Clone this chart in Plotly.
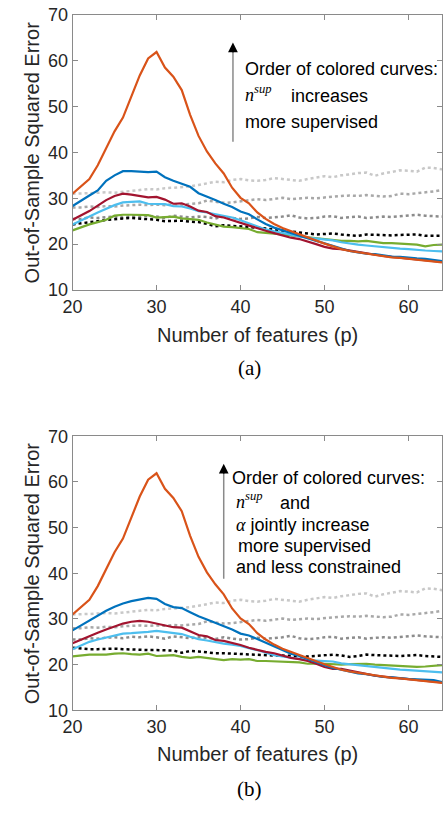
import plotly.graph_objects as go

p = list(range(20, 65))

# shared curves (same in both panels)
orange = [31.0, 32.6, 34.2, 37.2, 41.0, 44.6, 47.6, 52.0, 56.8, 60.5, 61.9, 58.5, 56.5, 53.6, 48.2,
          43.6, 40.2, 37.6, 35.4, 32.3, 30.1, 28.9, 26.9, 25.5, 24.4, 23.5, 22.8, 22.1, 21.4, 20.7,
          20.1, 19.5, 18.9, 18.5, 18.2, 17.9, 17.6, 17.3, 17.1, 17.0, 16.8, 16.6, 16.3, 16.2, 16.0]
gray_dark = [25.5, 25.5, 25.8, 25.7, 25.9, 26.0, 25.8, 26.1, 26.0, 26.2, 26.0, 25.7, 26.2, 26.0, 25.8,
             26.0, 25.9, 25.6, 26.0, 25.7, 25.5, 25.6, 25.9, 25.7, 25.8, 26.0, 26.3, 25.8, 25.6, 25.7,
             26.0, 26.1, 25.7, 25.9, 26.0, 25.7, 25.9, 26.0, 25.9, 26.1, 26.2, 26.4, 26.2, 26.1, 26.0]
gray_mid = [28.0, 28.0, 28.2, 28.1, 28.3, 28.2, 28.4, 28.5, 28.6, 28.5, 28.6, 28.5, 28.7, 28.6, 28.8,
            28.9, 29.5, 29.2, 29.0, 29.1, 29.3, 29.6, 29.8, 29.6, 29.9, 30.1, 29.8, 30.0, 30.1, 30.0,
            30.2, 30.3, 30.5, 30.6, 30.5, 30.7, 30.6, 30.4, 30.5, 31.0, 30.9, 31.1, 31.2, 31.5, 31.8]
gray_light = [31.0, 31.0, 31.1, 31.2, 31.3, 31.2, 31.4, 31.5, 31.8, 32.0, 31.9, 32.2, 32.3, 32.4, 32.6,
              32.9, 33.3, 33.6, 33.5, 34.0, 34.2, 33.9, 33.8, 34.0, 34.4, 34.2, 33.9, 33.8, 34.2, 34.5,
              34.8, 34.6, 35.0, 35.2, 35.5, 35.6, 34.9, 35.4, 35.8, 36.1, 36.0, 35.8, 36.7, 36.6, 36.3]

# panel (a)
a_blue = [28.3, 29.5, 30.6, 31.7, 33.8, 35.0, 35.9, 35.9, 35.8, 35.7, 35.8, 34.6, 33.8, 33.2, 32.5,
          31.1, 30.4, 29.6, 28.8, 28.1, 27.1, 26.5, 25.4, 24.4, 23.6, 23.0, 22.5, 21.9, 21.2, 20.7,
          20.2, 19.6, 19.1, 18.5, 18.2, 17.9, 17.8, 17.5, 17.3, 17.2, 17.0, 16.9, 16.8, 16.5, 16.3]
a_red = [25.3, 26.3, 27.2, 28.4, 29.6, 30.5, 31.0, 30.8, 30.5, 30.2, 30.3, 29.7, 28.8, 28.9, 28.2,
         27.3, 27.0, 26.1, 25.8, 25.2, 24.6, 24.0, 23.4, 22.9, 22.4, 21.9, 21.4, 21.1, 20.6, 20.0,
         19.4, 19.0, 18.9, 18.6, 18.3, 17.9, 17.6, 17.4, 17.2, 17.0, 16.9, 16.7, 16.4, 16.2, 16.1]
a_lblue = [24.3, 25.1, 26.0, 26.9, 27.7, 28.5, 29.1, 29.2, 29.3, 28.8, 28.8, 28.7, 28.3, 28.2, 27.8,
           27.2, 26.9, 26.5, 26.1, 25.8, 25.2, 24.5, 23.8, 23.2, 22.8, 22.4, 22.0, 21.7, 21.4, 21.2,
           21.0, 20.8, 20.4, 20.1, 19.9, 19.7, 19.5, 19.3, 19.1, 19.0, 18.9, 18.7, 18.6, 18.5, 18.4]
a_green = [23.0, 23.7, 24.3, 24.8, 25.3, 26.2, 26.4, 26.4, 26.4, 26.3, 25.8, 25.9, 26.0, 25.6, 25.4,
           25.3, 24.7, 24.3, 23.8, 23.7, 23.5, 23.3, 22.6, 22.5, 22.3, 22.1, 21.9, 21.7, 21.4, 21.2,
           21.0, 20.9, 20.7, 20.7, 20.6, 20.7, 20.5, 20.2, 20.2, 20.1, 20.0, 19.9, 19.5, 19.8, 19.9]
a_black = [24.3, 24.5, 24.7, 25.0, 25.3, 25.5, 25.6, 25.7, 25.6, 25.4, 25.3, 25.0, 25.1, 25.1, 24.9,
           24.8, 24.4, 23.9, 24.1, 24.0, 23.9, 23.7, 23.6, 23.4, 23.2, 23.0, 22.8, 22.6, 22.3, 22.1,
           22.2, 22.3, 22.1, 21.9, 21.8, 22.1, 22.0, 22.0, 21.9, 22.0, 22.0, 22.1, 21.8, 21.8, 21.8]

# panel (b)
b_blue = [27.5, 28.6, 29.7, 30.8, 31.8, 32.7, 33.4, 33.9, 34.2, 34.6, 34.4, 33.3, 32.6, 32.4, 31.5,
          30.6, 29.9, 29.2, 28.5, 27.7, 26.8, 26.4, 25.6, 24.8, 23.9, 23.1, 22.4, 21.9, 21.3, 20.6,
          19.9, 19.3, 18.9, 18.5, 18.1, 17.9, 17.6, 17.3, 17.2, 17.0, 16.9, 16.8, 16.7, 16.6, 16.2]
b_red = [24.7, 25.5, 26.3, 27.0, 27.7, 28.3, 29.0, 29.4, 29.6, 29.4, 29.0, 28.7, 28.2, 28.1, 27.3,
         26.5, 26.2, 25.4, 25.2, 24.8, 24.3, 23.7, 23.2, 22.8, 22.5, 22.0, 21.5, 21.2, 20.8, 20.2,
         19.5, 19.1, 19.1, 18.7, 18.3, 17.9, 17.6, 17.4, 17.2, 17.0, 16.9, 16.7, 16.4, 16.2, 16.1]
b_lblue = [23.4, 24.2, 25.0, 25.5, 25.9, 26.3, 26.8, 26.9, 27.0, 27.2, 27.4, 27.2, 27.0, 26.7, 26.1,
           25.6, 25.3, 24.9, 24.6, 24.4, 24.1, 23.6, 23.2, 22.6, 22.1, 21.8, 21.5, 21.3, 21.0, 20.9,
           20.8, 20.7, 20.3, 20.1, 19.9, 19.7, 19.5, 19.2, 19.0, 18.9, 18.8, 18.7, 18.5, 18.4, 18.3]
b_green = [21.8, 22.0, 22.2, 22.2, 22.2, 22.4, 22.5, 22.3, 22.2, 22.4, 21.9, 22.0, 22.1, 21.7, 21.5,
           21.7, 21.5, 21.3, 21.0, 21.2, 21.1, 21.2, 20.8, 20.8, 20.7, 20.7, 20.6, 20.5, 20.2, 20.3,
           20.2, 20.1, 20.0, 20.1, 20.2, 20.2, 20.0, 19.9, 19.8, 19.7, 19.6, 19.5, 19.6, 19.7, 19.9]
b_black = [23.7, 23.5, 23.4, 23.4, 23.5, 23.5, 23.4, 23.3, 23.3, 23.2, 23.2, 23.1, 23.1, 22.6, 23.0,
           22.9, 22.7, 22.5, 22.5, 22.4, 22.4, 22.2, 22.2, 22.1, 22.0, 22.0, 21.9, 21.8, 21.8, 21.9,
           22.0, 22.2, 22.0, 21.7, 21.9, 22.2, 22.1, 22.0, 22.0, 21.9, 22.0, 22.1, 21.9, 21.8, 21.7]

x_ticks = [20, 30, 40, 50, 60]
y_ticks = [10, 20, 30, 40, 50, 60, 70]

C_OR, C_BL, C_RD, C_LB, C_GR = '#D95319', '#0072BD', '#A2142F', '#4DBEEE', '#77AC30'
G_L, G_M, G_D = '#C8C8C8', '#A8A8A8', '#8C8C8C'

SANS = 'Liberation Sans, Arial, sans-serif'
SERIF = 'Liberation Serif, Times New Roman, serif'

fig = go.Figure()


def add(xa, ya, y, color, dash='solid', width=2.2):
    fig.add_trace(go.Scatter(x=p, y=y, mode='lines', xaxis=xa, yaxis=ya,
                             line=dict(color=color, width=width, dash=dash),
                             showlegend=False, hoverinfo='skip'))


for xa, ya, blk, gr, lb, rd, bl in [('x', 'y', a_black, a_green, a_lblue, a_red, a_blue),
                                    ('x2', 'y2', b_black, b_green, b_lblue, b_red, b_blue)]:
    add(xa, ya, gray_light, G_L, 'dot', 2.5)
    add(xa, ya, gray_mid, G_M, 'dot', 2.5)
    add(xa, ya, gray_dark, G_D, 'dot', 2.5)
    add(xa, ya, blk, '#000000', 'dot', 2.5)
    add(xa, ya, gr, C_GR)
    add(xa, ya, lb, C_LB)
    add(xa, ya, rd, C_RD)
    add(xa, ya, bl, C_BL)
    add(xa, ya, orange, C_OR)

W, H = 445, 814
xdom = [64 / W, 442 / W]
ydom_a = [1 - 287 / H, 1 - 5 / H]
ydom_b = [1 - 718 / H, 1 - 437 / H]

axstyle = dict(ticks='inside', ticklen=5, tickcolor='#8a8a8a', tickwidth=1,
               showline=True, linecolor='#8a8a8a', linewidth=1, mirror='ticks',
               showgrid=False, zeroline=False,
               tickfont=dict(family=SANS, size=18, color='#262626'))

fig.update_layout(
    width=W, height=H, margin=dict(l=0, r=0, t=0, b=0),
    paper_bgcolor='white', plot_bgcolor='white', showlegend=False,
    xaxis=dict(domain=xdom, range=[20, 64], tickvals=x_ticks, anchor='y', **axstyle),
    yaxis=dict(domain=ydom_a, range=[10, 70], tickvals=y_ticks, anchor='x', **axstyle),
    xaxis2=dict(domain=xdom, range=[20, 64], tickvals=x_ticks, anchor='y2', **axstyle),
    yaxis2=dict(domain=ydom_b, range=[10, 70], tickvals=y_ticks, anchor='x2', **axstyle),
)

ann = []


def txt(x_px, y_px, text, size=18, family=SANS, xanchor='left', angle=0, color='#000000'):
    ann.append(dict(x=x_px / W, y=1 - y_px / H, xref='paper', yref='paper', text=text,
                    showarrow=False, xanchor=xanchor, yanchor='middle', textangle=angle,
                    font=dict(family=family, size=size, color=color)))


NSUP = ("<span style='font-family:Liberation Serif, serif'><i>n</i>"
        "<sup><i>sup</i></sup></span>")
ALPHA = "<span style='font-family:Liberation Serif, serif'><i>α</i></span>"

# panel (a) texts
txt(238, 60, 'Order of colored curves:')
txt(238, 86, NSUP)
txt(285, 88, 'increases')
txt(238, 115, 'more supervised')
# panel (b) texts
txt(225, 480, 'Order of colored curves:')
txt(229, 503, NSUP)
txt(274, 505, 'and')
txt(229, 528, ALPHA + ' jointly increase')
txt(231, 550, 'more supervised')
txt(229, 571, 'and less constrained')

# axis titles
for yc, yt, lab, yl in [(146, 333, '(a)', 367), (577.5, 763, '(b)', 799)]:
    txt(22.5, yc, 'Out-of-Sample Squared Error', size=20, xanchor='center', angle=-90,
        color='#262626')
    txt(253, yt, 'Number of features (p)', size=20, xanchor='center', color='#262626')
    txt(245, yl, lab, size=21, family=SERIF, xanchor='center')

# arrows: gray shaft + black head
shapes = []
for xr, yr, xa, y0, y1 in [('x', 'y', 39.1, 42.3, 62.0), ('x2', 'y2', 38.0, 38.8, 62.0)]:
    shapes.append(dict(type='line', xref=xr, yref=yr, x0=xa, x1=xa, y0=y0, y1=y1,
                       line=dict(color='#8a8a8a', width=1.5)))
    ann.append(dict(x=xa, y=64.0, ax=xa, ay=61.5, xref=xr, yref=yr, axref=xr, ayref=yr,
                    text='', showarrow=True, arrowhead=2, arrowsize=1.3, arrowwidth=1.5,
                    arrowcolor='#000000', standoff=0, startstandoff=0))

fig.update_layout(annotations=ann, shapes=shapes)
fig.write_html('out.html', config={'displayModeBar': False},
               post_script="document.body.style.margin='0';"
                           "document.body.style.overflow='hidden';")
